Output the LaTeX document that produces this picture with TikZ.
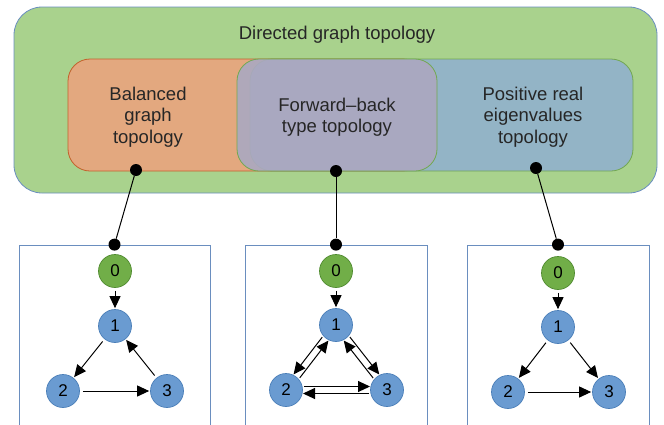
\documentclass[tikz,border=0pt]{standalone}
\usepackage{fontspec}
\setmainfont{Liberation Sans}
\usetikzlibrary{arrows.meta,calc,positioning}
\definecolor{bggreen}{HTML}{A9D28D}
\definecolor{bgedge}{HTML}{6A8EBF}
\definecolor{orfill}{HTML}{E3A87F}
\definecolor{oredge}{HTML}{C2612B}
\definecolor{pufill}{HTML}{ABA8C0}
\definecolor{blfill}{HTML}{93B4C6}
\definecolor{grnedge}{HTML}{72A850}
\definecolor{vblue}{HTML}{6A9BD1}
\definecolor{vblueedge}{HTML}{4A7EB8}
\definecolor{vgreen}{HTML}{71AE48}
\definecolor{vgreenedge}{HTML}{4F8A2F}

\tikzset{
  region/.style={draw,line width=0.8pt,rounded corners=22pt,inner sep=0pt},
  caption/.style={align=center,font=\fontsize{18.5}{21.5}\selectfont,text=black!85},
  panel/.style={draw=bgedge,line width=0.8pt,minimum width=182pt,minimum height=195pt,inner sep=0pt},
  vertex/.style={circle,draw=vblueedge,fill=vblue,line width=0.7pt,minimum size=33pt,inner sep=0pt,font=\fontsize{17}{17}\selectfont},
  root/.style={vertex,draw=vgreenedge,fill=vgreen},
  dot/.style={circle,fill=black,minimum size=12pt,inner sep=0pt},
  arc/.style={-{Triangle[length=12pt,width=11pt]},line width=1pt,shorten <=3pt,shorten >=1pt},
  right lane/.style={-{Triangle[length=12pt,width=11pt]},line width=1pt,shorten <=18pt,shorten >=17pt,
    to path={($(\tikztostart)!3.5pt!-90:(\tikztotarget)$) -- ($(\tikztotarget)!3.5pt!90:(\tikztostart)$)}},
  left lane/.style={-{Triangle[length=12pt,width=11pt]},line width=1pt,shorten <=18pt,shorten >=17pt,
    to path={($(\tikztostart)!3.5pt!90:(\tikztotarget)$) -- ($(\tikztotarget)!3.5pt!-90:(\tikztostart)$)}}
}

\begin{document}
\begin{tikzpicture}[x=1pt,y=-1pt]
  \useasboundingbox (0,0) rectangle (664,424);
  \clip (0,0) rectangle (664,424);

  % topology sets
  \node[region,draw=bgedge,fill=bggreen,rounded corners=28pt,minimum width=643pt,minimum height=186pt] (all) at (335.5,100) {};
  \node[region,draw=oredge,fill=orfill,minimum width=357pt,minimum height=112pt] (bal) at (246.5,115) {};
  \node[region,draw=grnedge,fill=blfill,minimum width=383pt,minimum height=112pt] (pos) at (441.5,115) {};
  \node[region,draw=grnedge,fill=pufill,fill opacity=0.92,minimum width=200pt,minimum height=112pt] (fb) at (337,115) {};

  \node[caption] (allt) at (337,35) {Directed graph topology};
  \node[caption] (balt) at (148,117) {Balanced\\graph\\topology};
  \node[caption] (fbt)  at (337,117) {Forward--back\\type topology};
  \node[caption] (post) at (533,117) {Positive real\\eigenvalues\\topology};

  % example graphs
  \node[panel,minimum width=191pt] (p1) at (114.5,342.5) {};
  \node[panel] (p2) at (336,342.5) {};
  \node[panel] (p3) at (558,342.5) {};

  \node[dot] (s1) at (136,170) {};
  \node[dot] (s2) at (336,171) {};
  \node[dot] (s3) at (536,168) {};
  \node[dot] (e1) at (p1.north) {};
  \node[dot] (e2) at (p2.north) {};
  \node[dot] (e3) at (p3.north) {};
  \draw[line width=1pt] (s1) -- (e1);
  \draw[line width=1pt] (s2) -- (e2);
  \draw[line width=1pt] (s3) -- (e3);

  % balanced
  \node[root]   (a0) at (115,271) {0};
  \node[vertex] (a1) at (115,326) {1};
  \node[vertex] (a2) at (63,391)  {2};
  \node[vertex] (a3) at (167,391) {3};
  \path[arc] (a0) edge (a1) (a1) edge (a2) (a2) edge (a3) (a3) edge (a1);

  % forward-back
  \node[root]   (b0) at (336,271) {0};
  \node[vertex] (b1) at (336,325) {1};
  \node[vertex] (b2) at (286,390) {2};
  \node[vertex] (b3) at (387,390) {3};
  \path[arc] (b0) edge (b1);
  \path (b1) edge[right lane] (b2)
        (b2) edge[right lane] (b1)
        (b1) edge[left lane] (b3)
        (b3) edge[left lane] (b1)
        (b2) edge[left lane] (b3)
        (b3) edge[left lane] (b2);

  % positive real eigenvalues
  \node[root]   (c0) at (558,273) {0};
  \node[vertex] (c1) at (558,327) {1};
  \node[vertex] (c2) at (508,392) {2};
  \node[vertex] (c3) at (609,392) {3};
  \path[arc] (c0) edge (c1) (c1) edge (c2) (c1) edge (c3) (c2) edge (c3);
\end{tikzpicture}
\end{document}
